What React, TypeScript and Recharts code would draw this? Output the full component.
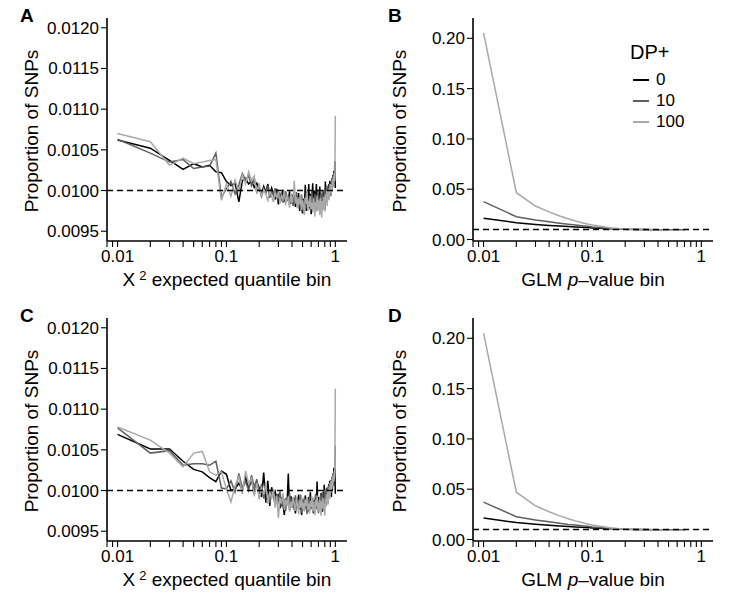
import React from 'react';
import { LineChart, Line, XAxis, YAxis, ReferenceLine } from 'recharts';

// Quantile / p-value bins
const binsQ = [
  0.01, 0.02, 0.03, 0.04, 0.05, 0.06, 0.07, 0.08, 0.09, 0.1,
  0.11, 0.12, 0.13, 0.14, 0.15, 0.16, 0.17, 0.18, 0.19, 0.2,
  0.21, 0.22, 0.23, 0.24, 0.25, 0.26, 0.27, 0.28, 0.29, 0.3,
  0.31, 0.32, 0.33, 0.34, 0.35, 0.36, 0.37, 0.38, 0.39, 0.4,
  0.41, 0.42, 0.43, 0.44, 0.45, 0.46, 0.47, 0.48, 0.49, 0.5,
  0.51, 0.52, 0.53, 0.54, 0.55, 0.56, 0.57, 0.58, 0.59, 0.6,
  0.61, 0.62, 0.63, 0.64, 0.65, 0.66, 0.67, 0.68, 0.69, 0.7,
  0.71, 0.72, 0.73, 0.74, 0.75, 0.76, 0.77, 0.78, 0.79, 0.8,
  0.81, 0.82, 0.83, 0.84, 0.85, 0.86, 0.87, 0.88, 0.89, 0.9,
  0.91, 0.92, 0.93, 0.94, 0.95, 0.96, 0.97, 0.98, 0.99, 1.0,
];

// Panel A: chi-square expected quantile bins
const panelA_dp0 = [
  0.01062, 0.01052, 0.01037, 0.01026, 0.01033, 0.01029, 0.01031, 0.01023, 0.01022, 0.01011,
  0.01006, 0.01009, 0.00986, 0.01012, 0.01015, 0.01008, 0.01012, 0.01004, 0.01009, 0.01001,
  0.00996, 0.01005, 0.00998, 0.01008, 0.00994, 0.01003, 0.00996, 0.00989, 0.01002, 0.00983,
  0.00995, 0.0099, 0.01001, 0.00986, 0.00997, 0.00992, 0.00988, 0.00999, 0.00984, 0.00995,
  0.00987, 0.00993, 0.0098, 0.00991, 0.00986, 0.00997, 0.00975, 0.00988, 0.00979, 0.00972,
  0.0099, 0.00981, 0.01007, 0.00975, 0.00994, 0.00983, 0.01008, 0.00978, 0.00996, 0.00971,
  0.0099, 0.01009, 0.00982, 0.01, 0.00975, 0.00993, 0.01008, 0.00984, 0.00997, 0.00979,
  0.00991, 0.01005, 0.00982, 0.00996, 0.00987, 0.00978, 0.01001, 0.00985, 0.00993, 0.00976,
  0.01011, 0.0099, 0.01002, 0.00988, 0.01004, 0.00994, 0.01008, 0.00997, 0.01012, 0.00999,
  0.0101, 0.01002, 0.01015, 0.01006, 0.01019, 0.01011, 0.01024, 0.01015, 0.01036, 0.01003,
];
const panelA_dp10 = [
  0.01063, 0.01046, 0.01035, 0.01038, 0.01027, 0.01029, 0.0103, 0.01046, 0.00992, 0.01002,
  0.01011, 0.00996, 0.01007, 0.01021, 0.01013, 0.01018, 0.01006, 0.01014, 0.00998, 0.01005,
  0.00993, 0.01002, 0.00997, 0.01006, 0.00991, 0.00999, 0.00994, 0.01003, 0.0099, 0.00997,
  0.00988, 0.00998, 0.00985, 0.00994, 0.00999, 0.00987, 0.00993, 0.00983, 0.00996, 0.00989,
  0.00981, 0.00994, 0.00986, 0.00998, 0.00979, 0.00992, 0.00984, 0.00977, 0.00995, 0.00983,
  0.00973, 0.00991, 0.00985, 0.00998, 0.00978, 0.00989, 0.00981, 0.00994, 0.00976, 0.00987,
  0.00999, 0.00979, 0.00992, 0.00984, 0.00996, 0.00974, 0.00989, 0.00982, 0.01001, 0.00977,
  0.0099, 0.00985, 0.00996, 0.00972, 0.00988, 0.00999, 0.0098, 0.00993, 0.00986, 0.01003,
  0.00984, 0.00995, 0.00988, 0.01006, 0.00992, 0.01001, 0.00989, 0.01008, 0.00996, 0.01004,
  0.00993, 0.01011, 0.00999, 0.01013, 0.01004, 0.01018, 0.01009, 0.01022, 0.01016, 0.0103,
];
const panelA_dp100 = [
  0.0107, 0.0106, 0.01031, 0.0104, 0.01033, 0.01035, 0.01037, 0.01038, 0.00988, 0.01008,
  0.00993, 0.01013, 0.00999, 0.01019, 0.01008, 0.01023, 0.01012, 0.01018, 0.00996, 0.01009,
  0.00992, 0.01001, 0.00995, 0.00988, 0.01, 0.00993, 0.00986, 0.00997, 0.00991, 0.00999,
  0.00984, 0.00993, 0.00989, 0.01, 0.00982, 0.00995, 0.00988, 0.00979, 0.00997, 0.00985,
  0.00993, 0.01012, 0.00984, 0.00992, 0.00978, 0.0099, 0.00983, 0.00995, 0.00976, 0.00988,
  0.00981, 0.0097, 0.00991, 0.00984, 0.00997, 0.00975, 0.00987, 0.0098, 0.00993, 0.00977,
  0.00985, 0.00973, 0.0099, 0.00982, 0.00968, 0.00986, 0.00979, 0.00994, 0.00975, 0.00988,
  0.00983, 0.0097, 0.00991, 0.0098, 0.00967, 0.00987, 0.00976, 0.00992, 0.00983, 0.00974,
  0.00995, 0.00986, 0.00999, 0.00981, 0.00994, 0.01, 0.00988, 0.01003, 0.00993, 0.01008,
  0.00997, 0.01006, 0.01, 0.01014, 0.01005, 0.01018, 0.0101, 0.01022, 0.01012, 0.01092,
];

// Panel C: chi-square expected quantile bins (second dataset)
const panelC_dp0 = [
  0.01069, 0.01051, 0.01051, 0.01036, 0.01026, 0.01023, 0.01016, 0.01011, 0.01024, 0.0102,
  0.01, 0.01002, 0.01009, 0.01001, 0.01016, 0.01003, 0.01013, 0.00997, 0.0101, 0.01003,
  0.00992, 0.01022, 0.00985, 0.01012, 0.00981, 0.01004, 0.00994, 0.00999, 0.00987, 0.00996,
  0.00978, 0.00992, 0.00984, 0.0097, 0.0099, 0.00982, 0.01021, 0.00976, 0.00993, 0.00985,
  0.00979, 0.00991, 0.00972, 0.00988, 0.00981, 0.00995, 0.00977, 0.00986, 0.0097, 0.00989,
  0.00983, 0.00976, 0.00994, 0.0098, 0.00987, 0.00974, 0.00992, 0.00982, 0.00998, 0.00978,
  0.0099, 0.00984, 0.00972, 0.00988, 0.0098, 0.00995, 0.00983, 0.01011, 0.00978, 0.00992,
  0.00976, 0.00988, 0.00981, 0.00997, 0.00984, 0.00974, 0.00993, 0.00986, 0.01007, 0.00982,
  0.00996, 0.00989, 0.01003, 0.00991, 0.00999, 0.00987, 0.01008, 0.00994, 0.01012, 0.00998,
  0.01005, 0.00992, 0.01016, 0.01001, 0.01021, 0.01006, 0.01028, 0.0101, 0.01027, 0.00996,
];
const panelC_dp10 = [
  0.01077, 0.01046, 0.01049, 0.01031, 0.01033, 0.01033, 0.01031, 0.01036, 0.01003, 0.01002,
  0.01012, 0.00998, 0.01021, 0.01003, 0.01011, 0.01, 0.01019, 0.01004, 0.01014, 0.00996,
  0.01008, 0.0099, 0.01002, 0.00995, 0.00985, 0.01, 0.00992, 0.00983, 0.00996, 0.00988,
  0.00999, 0.0098, 0.00993, 0.00986, 0.00975, 0.00991, 0.00984, 0.00997, 0.00979, 0.0099,
  0.00983, 0.00976, 0.00994, 0.00985, 0.00978, 0.00989, 0.00981, 0.00995, 0.00973, 0.00987,
  0.0098, 0.00992, 0.00977, 0.00986, 0.00971, 0.00989, 0.00982, 0.00994, 0.00976, 0.00985,
  0.00979, 0.00991, 0.00973, 0.00987, 0.00981, 0.00996, 0.00977, 0.00989, 0.00983, 0.00972,
  0.0099, 0.0098, 0.00994, 0.00976, 0.00986, 0.00998, 0.00979, 0.0099, 0.00984, 0.01001,
  0.00987, 0.00995, 0.00982, 0.01004, 0.0099, 0.00998, 0.01007, 0.00993, 0.0101, 0.00997,
  0.01013, 0.01001, 0.01017, 0.01005, 0.0102, 0.0101, 0.01024, 0.01015, 0.01029, 0.01055,
];
const panelC_dp100 = [
  0.01078, 0.01062, 0.01046, 0.01029, 0.01046, 0.01048, 0.01023, 0.01019, 0.01023, 0.01002,
  0.00986, 0.01006, 0.01017, 0.00996, 0.01024, 0.01008, 0.01015, 0.00993, 0.01009, 0.00989,
  0.01003, 0.00995, 0.0101, 0.00984, 0.00998, 0.0099, 0.01002, 0.00979, 0.00993, 0.00966,
  0.00991, 0.00984, 0.00997, 0.00976, 0.00989, 0.00981, 0.00993, 0.00974, 0.00986, 0.00979,
  0.00992, 0.00983, 0.00975, 0.0099, 0.00982, 0.00971, 0.00988, 0.00979, 0.00993, 0.00977,
  0.00985, 0.00974, 0.00989, 0.00981, 0.00992, 0.00976, 0.00984, 0.00972, 0.00987, 0.0098,
  0.00993, 0.00975, 0.00986, 0.00978, 0.0097, 0.00988, 0.00981, 0.00994, 0.00977, 0.00985,
  0.00973, 0.00989, 0.00982, 0.00969, 0.00987, 0.00978, 0.00991, 0.00974, 0.00984, 0.00969,
  0.0099, 0.0098, 0.00995, 0.00986, 0.00999, 0.00983, 0.00996, 0.01004, 0.0099, 0.01009,
  0.00997, 0.01012, 0.01002, 0.01016, 0.01006, 0.0102, 0.01011, 0.01018, 0.01025, 0.01125,
];

// Panels B and D: GLM p-value bins
const binsP = [0.01, 0.02, 0.03, 0.04, 0.05, 0.06, 0.07, 0.08, 0.09, 0.1, 0.15, 0.2, 0.3, 0.4, 0.5, 0.6, 0.7];
const panelB_dp0 = [0.0211, 0.0167, 0.015, 0.014, 0.0134, 0.0128, 0.0124, 0.0121, 0.0118, 0.0115, 0.0106, 0.0101, 0.0099, 0.0098, 0.0097, 0.0097, 0.0096];
const panelB_dp10 = [0.0376, 0.0227, 0.0194, 0.0177, 0.0162, 0.0151, 0.0143, 0.0137, 0.0131, 0.0125, 0.011, 0.0101, 0.0097, 0.0096, 0.0095, 0.0094, 0.0094];
const panelB_dp100 = [0.2055, 0.0465, 0.0333, 0.0275, 0.0234, 0.0206, 0.0184, 0.0167, 0.0154, 0.0144, 0.0115, 0.0102, 0.0096, 0.0094, 0.0093, 0.0092, 0.0091];
const panelD_dp0 = [0.0213, 0.0168, 0.0151, 0.0141, 0.0134, 0.0128, 0.0124, 0.0121, 0.0118, 0.0115, 0.0106, 0.0101, 0.0099, 0.0098, 0.0097, 0.0097, 0.0096];
const panelD_dp10 = [0.0372, 0.0226, 0.0193, 0.0176, 0.0161, 0.015, 0.0143, 0.0137, 0.0131, 0.0125, 0.011, 0.0101, 0.0097, 0.0096, 0.0095, 0.0094, 0.0094];
const panelD_dp100 = [0.2052, 0.047, 0.0335, 0.0276, 0.0235, 0.0207, 0.0185, 0.0168, 0.0155, 0.0144, 0.0115, 0.0102, 0.0096, 0.0094, 0.0093, 0.0092, 0.0091];

// Axis ticks
const xTicks = [0.008, 0.009, 0.01, 0.02, 0.03, 0.04, 0.05, 0.06, 0.07, 0.08, 0.09, 0.1, 0.2, 0.3, 0.4, 0.5, 0.6, 0.7, 0.8, 0.9, 1];
const xLabelled = [0.01, 0.1, 1];
const yTicksQ = [0.0095, 0.01, 0.0105, 0.011, 0.0115, 0.012];
const yTicksP = [0, 0.05, 0.1, 0.15, 0.2];
const seriesNames = ['0', '10', '100'];
const seriesColors = ['#000000', '#5f5f5f', '#a9a9a9'];

const FONT = '"Liberation Sans", Arial, Helvetica, sans-serif';

const makeRows = (xs: number[], a: number[], b: number[], c: number[]) =>
  xs.map((x, i) => ({ x, dp0: a[i], dp10: b[i], dp100: c[i] }));

const fmtX = (v: number) => {
  const hit = xLabelled.find((t) => Math.abs(t - v) < 1e-9);
  return hit === undefined ? '' : String(hit);
};

type PanelProps = {
  left: number;
  top: number;
  rows: any[];
  yDomain: [number, number];
  yTicks: number[];
  yDigits: number;
};

function Panel({ left, top, rows, yDomain, yTicks, yDigits }: PanelProps) {
  const tickStyle = { fontSize: 17, fill: '#000', fontFamily: FONT };
  return (
    <div style={{ position: 'absolute', left, top }}>
      <LineChart width={370} height={300} data={rows} margin={{ top: 18, right: 23, bottom: 29, left: 47 }}>
        <XAxis
          dataKey="x"
          type="number"
          scale="log"
          domain={[0.008, 1.28]}
          allowDataOverflow
          ticks={xTicks}
          interval={0}
          tickFormatter={fmtX}
          tick={tickStyle}
          tickSize={6}
          tickMargin={3}
          height={30}
          axisLine={{ stroke: '#000', strokeWidth: 1.6 }}
          tickLine={{ stroke: '#000', strokeWidth: 1.1 }}
        />
        <YAxis
          type="number"
          domain={yDomain}
          allowDataOverflow
          ticks={yTicks}
          interval={0}
          tickFormatter={(v: number) => v.toFixed(yDigits)}
          tick={tickStyle}
          tickSize={6}
          tickMargin={2}
          width={60}
          axisLine={{ stroke: '#000', strokeWidth: 1.6 }}
          tickLine={{ stroke: '#000', strokeWidth: 1.1 }}
        />
        <Line type="linear" dataKey="dp0" stroke={seriesColors[0]} strokeWidth={1.5} dot={false} isAnimationActive={false} />
        <Line type="linear" dataKey="dp10" stroke={seriesColors[1]} strokeWidth={1.5} dot={false} isAnimationActive={false} />
        <Line type="linear" dataKey="dp100" stroke={seriesColors[2]} strokeWidth={1.5} dot={false} isAnimationActive={false} />
        <ReferenceLine y={0.01} stroke="#000" strokeWidth={1.5} strokeDasharray="6 4" />
      </LineChart>
    </div>
  );
}

const textBase: React.CSSProperties = {
  position: 'absolute',
  fontFamily: FONT,
  color: '#000',
  whiteSpace: 'nowrap',
  textAlign: 'center',
};

function YTitle({ cx, cy }: { cx: number; cy: number }) {
  return (
    <div style={{ ...textBase, left: cx - 110, top: cy - 11, width: 220, height: 22, lineHeight: '22px', fontSize: 19, transform: 'rotate(-90deg)' }}>
      Proportion of SNPs
    </div>
  );
}

function QTitle({ cx, cy }: { cx: number; cy: number }) {
  return (
    <div style={{ ...textBase, left: cx - 130, top: cy - 11, width: 260, height: 22, lineHeight: '22px', fontSize: 19 }}>
      X<sup style={{ fontSize: 13, marginLeft: 4, verticalAlign: 'top', lineHeight: '14px' }}>2</sup> expected quantile bin
    </div>
  );
}

function PTitle({ cx, cy }: { cx: number; cy: number }) {
  return (
    <div style={{ ...textBase, left: cx - 130, top: cy - 11, width: 260, height: 22, lineHeight: '22px', fontSize: 19 }}>
      GLM <i>p</i>–value bin
    </div>
  );
}

function Letter({ x, y, t }: { x: number; y: number; t: string }) {
  return (
    <div style={{ ...textBase, textAlign: 'left', left: x, top: y, fontSize: 19, fontWeight: 'bold', lineHeight: '22px' }}>{t}</div>
  );
}

function LegendBox({ left, top }: { left: number; top: number }) {
  return (
    <div style={{ position: 'absolute', left, top, fontFamily: FONT, color: '#000' }}>
      <div style={{ fontSize: 20, lineHeight: '22px', marginLeft: -3 }}>DP+</div>
      {seriesNames.map((n, i) => (
        <div key={n} style={{ position: 'absolute', top: 28 + i * 21, left: 0, height: 21, width: 80 }}>
          <div style={{ position: 'absolute', left: 0, top: 10, width: 16, height: 2, background: seriesColors[i] }} />
          <div style={{ position: 'absolute', left: 23, top: 0, fontSize: 17, lineHeight: '21px' }}>{n}</div>
        </div>
      ))}
    </div>
  );
}

export default function App() {
  const rowsA = makeRows(binsQ, panelA_dp0, panelA_dp10, panelA_dp100);
  const rowsC = makeRows(binsQ, panelC_dp0, panelC_dp10, panelC_dp100);
  const rowsB = makeRows(binsP, panelB_dp0, panelB_dp10, panelB_dp100);
  const rowsD = makeRows(binsP, panelD_dp0, panelD_dp10, panelD_dp100);
  const qDomain: [number, number] = [0.00938, 0.01212];
  const pDomain: [number, number] = [-0.0015, 0.2202];
  return (
    <div style={{ position: 'absolute', left: 0, top: 0, width: 735, height: 608, background: '#fff', overflow: 'hidden' }}>
      <Panel left={0} top={0} rows={rowsA} yDomain={qDomain} yTicks={yTicksQ} yDigits={4} />
      <Panel left={366} top={0} rows={rowsB} yDomain={pDomain} yTicks={yTicksP} yDigits={2} />
      <Panel left={0} top={300} rows={rowsC} yDomain={qDomain} yTicks={yTicksQ} yDigits={4} />
      <Panel left={366} top={300} rows={rowsD} yDomain={pDomain} yTicks={yTicksP} yDigits={2} />

      <Letter x={20} y={5} t="A" />
      <Letter x={388} y={5} t="B" />
      <Letter x={20} y={305} t="C" />
      <Letter x={388} y={305} t="D" />

      <YTitle cx={32} cy={131} />
      <YTitle cx={400} cy={131} />
      <YTitle cx={32} cy={431} />
      <YTitle cx={400} cy={431} />

      <QTitle cx={227} cy={280} />
      <PTitle cx={593} cy={280} />
      <QTitle cx={227} cy={580} />
      <PTitle cx={593} cy={580} />

      <LegendBox left={633} top={41} />
    </div>
  );
}
